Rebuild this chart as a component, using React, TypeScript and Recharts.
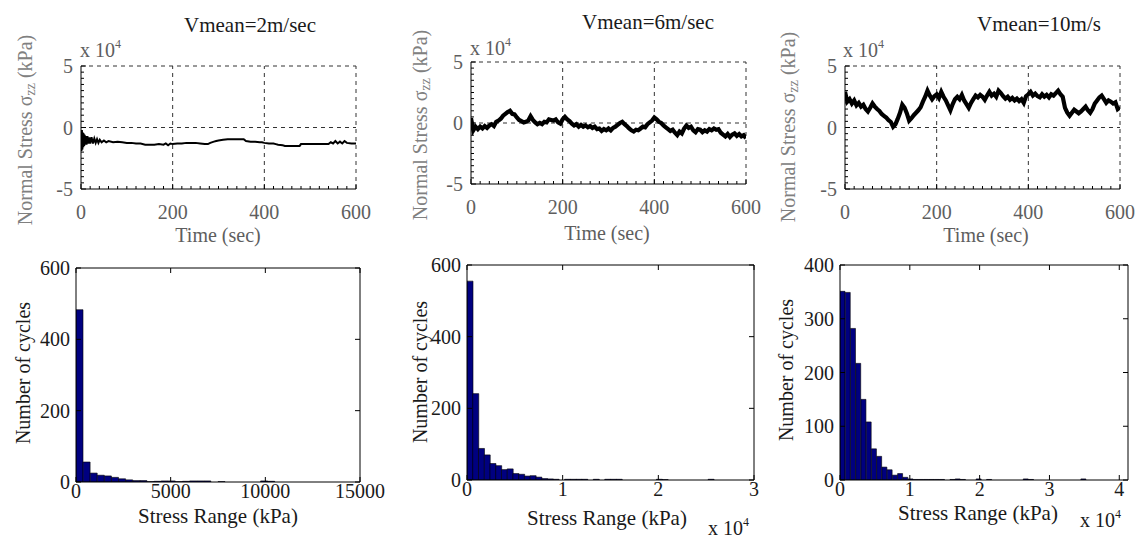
import React from 'react';
import { LineChart, Line, BarChart, Bar, XAxis, YAxis, ReferenceLine } from 'recharts';

const SERIF = '"Liberation Serif", "Times New Roman", Times, serif';
const W = 1140;
const H = 538;
const GREY = '#5e5e5e';
const DARK = '#1a1a1a';
const AXIS_W = 36;
const AXIS_H = 36;

// ---------------- data ----------------
// Vmean = 2 m/s : normal stress (x10^4 kPa) vs time (s)
const TIME_V2 = [0,1,2,3,4,5,6,7,8,9,10,12,14,16,18,20,23,26,29,32,35,38,41,45,50,55,60,70,80,90,100,110,120,130,140,150,160,170,180,185,190,195,200,210,220,230,240,250,260,270,277,282,290,295,300,310,320,330,340,350,355,360,370,380,390,395,400,410,420,425,430,440,445,450,460,470,477,480,490,500,510,520,530,540,545,550,555,560,565,570,575,580,590,600];
const STRESS_V2 = [-0.3,-1.9,-0.2,-1.8,-0.4,-1.6,-0.5,-1.5,-0.6,-1.4,-0.7,
  -1.4,-0.7,-1.3,-0.8,-1.3,
  -0.8,-1.3,-0.9,-1.25,-0.95,-1.25,-1.0,-1.2,
  -1.05,-1.2,-1.1,
  -1.2,-1.15,-1.2,-1.25,-1.25,-1.3,-1.3,-1.4,-1.4,-1.4,-1.35,-1.4,
  -1.3,-1.45,-1.3,-1.35,
  -1.3,-1.3,-1.25,-1.25,-1.25,-1.3,-1.35,
  -1.35,-1.25,-1.15,-1.1,-1.05,
  -1.0,-0.95,-0.95,-0.95,-0.95,
  -0.95,-1.1,-1.15,-1.15,-1.2,-1.2,-1.25,
  -1.3,-1.3,-1.35,-1.4,-1.45,-1.5,-1.5,
  -1.5,-1.5,-1.5,-1.35,-1.35,-1.35,
  -1.35,-1.35,-1.35,-1.35,
  -1.2,-1.3,-1.1,-1.3,-1.15,-1.3,-1.1,-1.25,-1.3,-1.3];

// Vmean = 6 m/s and 10 m/s sampled every 5 s
const TIME_5S = [0,5,10,15,20,25,30,35,40,45,50,55,60,65,70,75,80,85,90,95,100,105,110,115,120,125,130,135,140,145,150,155,160,165,170,175,180,185,190,195,200,205,210,215,220,225,230,235,240,245,250,255,260,265,270,275,280,285,290,295,300,305,310,315,320,325,330,335,340,345,350,355,360,365,370,375,380,385,390,395,400,405,410,415,420,425,430,435,440,445,450,455,460,465,470,475,480,485,490,495,500,505,510,515,520,525,530,535,540,545,550,555,560,565,570,575,580,585,590,595,600];
const STRESS_V6 = [
  0.4,-0.6,-0.3,-0.5,-0.3,-0.45,-0.25,-0.4,-0.2,-0.1,
  -0.25,0.1,0.2,0.35,0.6,0.75,0.9,1.0,0.75,0.7,
  0.45,0.25,0.15,0.05,0.1,0.2,0.55,0.25,0.05,-0.1,
  0.0,-0.1,0.1,0.05,0.3,0.25,0.2,0.3,0.05,-0.05,
  0.3,0.5,0.3,0.15,-0.05,-0.2,-0.1,-0.3,-0.15,-0.3,
  -0.2,-0.35,-0.25,-0.4,-0.3,-0.5,-0.45,-0.65,-0.5,-0.6,
  -0.45,-0.6,-0.4,-0.3,-0.15,0.0,0.1,-0.1,-0.25,-0.45,
  -0.6,-0.7,-0.55,-0.6,-0.45,-0.3,-0.35,-0.1,0.05,0.2,
  0.45,0.3,0.1,0.0,-0.2,-0.35,-0.5,-0.65,-0.55,-0.8,
  -1.0,-0.7,-0.85,-0.45,-0.2,-0.4,-0.3,-0.6,-0.75,-0.5,
  -0.55,-0.75,-0.6,-0.7,-0.5,-0.6,-0.45,-0.55,-0.5,-0.8,
  -0.95,-1.1,-0.9,-1.15,-0.95,-0.85,-1.05,-0.9,-1.1,-1.0,
  -1.25];
const STRESS_V10 = [
  2.9,2.1,2.3,1.95,2.2,1.8,2.0,1.7,1.85,1.5,
  1.3,1.6,1.95,1.7,1.5,1.35,1.1,0.95,0.8,0.6,
  0.45,0.05,0.25,0.7,1.2,1.85,1.6,1.15,0.55,0.75,
  1.0,1.2,1.4,1.65,2.1,2.5,3.0,2.6,2.3,2.55,
  2.7,2.4,2.9,2.5,2.2,1.8,1.4,1.9,2.3,2.5,
  2.3,2.65,2.2,1.9,1.6,2.0,2.3,2.6,2.45,2.65,
  2.5,2.25,2.6,2.9,2.6,2.75,2.5,3.0,2.8,2.55,
  2.35,2.5,2.25,2.4,2.2,2.35,2.15,2.3,2.0,2.55,
  2.7,2.9,2.6,2.75,2.55,2.45,2.7,2.5,2.65,2.45,
  2.7,2.6,2.8,3.0,2.7,2.5,1.6,1.2,0.95,1.2,
  1.45,1.3,1.15,1.3,1.5,1.7,1.4,1.2,1.5,1.95,
  2.2,2.45,2.6,2.3,2.0,2.2,2.1,1.95,2.05,1.5,
  1.65];

// Histograms of stress range (kPa): bin width and cycle counts
const BIN_WIDTH_V2 = 375;
const COUNTS_V2 = [483,56,25,19,17,13,9,6,4,4, 1,2,3,3,1,2,3,3,3,0, 1,0,0,0,0,0,3,2,0,0, 0,0,0,0,0,0,0,0,0,0];
const BIN_WIDTH_V6 = 600;
const COUNTS_V6 = [555,241,88,70,46,40,29,31,18,16, 11,12,8,4,3,2,0,2,2,2, 2,0,2,0,2,2,2,0,0,0, 0,0,0,2,1,0,0,0,0,0, 0,0,2,0,0,0,0,0,0,0];
const BIN_WIDTH_V10 = 750;
const COUNTS_V10 = [351,349,282,217,150,108,58,44,24,19, 9,12,5,2,1,1,1,1,1,1, 0,1,2,1,0,0,2,0,1,0, 0,0,0,0,0,2,1,0,0,0, 0,0,0,0,0,0,2,0,0,0, 0,0,0,0,0];

const TITLES = ['Vmean=2m/sec', 'Vmean=6m/sec', 'Vmean=10m/s'];
const TIME_TICKS = [0, 200, 400, 600];
const STRESS_TICKS = [-5, 0, 5];
const RANGE_TICKS_V2 = [0, 5000, 10000, 15000];
const RANGE_TICKS_V6 = [0, 10000, 20000, 30000];
const RANGE_TICKS_V10 = [0, 10000, 20000, 30000, 40000];
const COUNT_TICKS_600 = [0, 200, 400, 600];
const COUNT_TICKS_400 = [0, 100, 200, 300, 400];

// ---------------- helpers ----------------
const steps = (a: number, b: number, s: number) => {
  const out: number[] = [];
  for (let v = a; v <= b + 1e-9; v += s) out.push(Math.round(v * 1000) / 1000);
  return out;
};
const TIME_MINOR = steps(0, 600, 20);
const STRESS_MINOR = steps(-5, 5, 0.5);

type Rect = { l: number; t: number; r: number; b: number };
type Pt = { x: number; y: number };

const TOP_LAYOUT: { plot: Rect; title: Pt; exp: Pt; ylab: Pt; xlab: Pt }[] = [
  { plot: { l: 81, t: 66, r: 356, b: 189 }, title: { x: 250, y: 32 }, exp: { x: 80, y: 57 }, ylab: { x: 25, y: 130 }, xlab: { x: 218, y: 242 } },
  { plot: { l: 471, t: 62, r: 746, b: 184 }, title: { x: 648, y: 29 }, exp: { x: 470, y: 55 }, ylab: { x: 420, y: 125 }, xlab: { x: 607, y: 240 } },
  { plot: { l: 845, t: 66, r: 1120, b: 189 }, title: { x: 1039, y: 31 }, exp: { x: 843, y: 57 }, ylab: { x: 788, y: 127 }, xlab: { x: 986, y: 242 } },
];
const BOTTOM_LAYOUT: { plot: Rect; xlab: Pt; ylab: Pt; exp: Pt | null }[] = [
  { plot: { l: 76, t: 268, r: 360, b: 482 }, xlab: { x: 218, y: 523 }, ylab: { x: 23, y: 373 }, exp: null },
  { plot: { l: 467, t: 265, r: 754, b: 480 }, xlab: { x: 607, y: 525 }, ylab: { x: 420, y: 372 }, exp: { x: 708, y: 535 } },
  { plot: { l: 840, t: 265, r: 1128, b: 480 }, xlab: { x: 978, y: 520 }, ylab: { x: 786, y: 370 }, exp: { x: 1080, y: 527 } },
];

const marginOf = (p: Rect) => ({ top: p.t, left: p.l - AXIS_W, right: W - p.r, bottom: H - p.b - AXIS_H });

const Exp = ({ x, y, color }: { x: number; y: number; color: string }) => (
  <text x={x} y={y} fontFamily={SERIF} fontSize={20} fill={color}>
    x 10<tspan dy={-9} fontSize={12}>4</tspan>
  </text>
);

const DASH = { stroke: '#333', strokeDasharray: '4 4', strokeWidth: 1 };

function TopPanel({ idx, times, values, strokeWidth }: { idx: number; times: number[]; values: number[]; strokeWidth: number }) {
  const L = TOP_LAYOUT[idx];
  const p = L.plot;
  const data = times.map((t, i) => ({ t, v: values[i] }));
  const xTick = (props: any) => {
    const v = props.payload.value;
    const major = TIME_TICKS.includes(v);
    return (
      <g>
        <line x1={props.x} x2={props.x} y1={props.y} y2={props.y - (major ? 5 : 3)} stroke="#000" />
        {major && (
          <text x={props.x} y={props.y + 30} textAnchor="middle" fontFamily={SERIF} fontSize={20} fill={GREY}>{v}</text>
        )}
      </g>
    );
  };
  const yTick = (props: any) => {
    const v = props.payload.value;
    const major = STRESS_TICKS.includes(v);
    return (
      <g>
        <line x1={props.x} x2={props.x + (major ? 5 : 3)} y1={props.y} y2={props.y} stroke="#000" />
        {major && (
          <text x={props.x - 8} y={props.y + 7} textAnchor="end" fontFamily={SERIF} fontSize={20} fill={GREY}>{v}</text>
        )}
      </g>
    );
  };
  const yLabel = () => (
    <g>
      <text x={L.title.x} y={L.title.y} textAnchor="middle" fontFamily={SERIF} fontSize={21} fill={DARK}>{TITLES[idx]}</text>
      <Exp x={L.exp.x} y={L.exp.y} color={GREY} />
      <text x={L.ylab.x} y={L.ylab.y} transform={`rotate(-90 ${L.ylab.x} ${L.ylab.y})`} textAnchor="middle" dominantBaseline="central" fontFamily={SERIF} fontSize={20} fill="#808080">
        Normal Stress σ<tspan dy={5} fontSize={14}>zz</tspan><tspan dy={-5}> (kPa)</tspan>
      </text>
    </g>
  );
  const xLabel = () => (
    <text x={L.xlab.x} y={L.xlab.y} textAnchor="middle" fontFamily={SERIF} fontSize={20} fill={GREY}>Time (sec)</text>
  );
  return (
    <div style={{ position: 'absolute', left: 0, top: 0 }}>
      <LineChart width={W} height={H} data={data} margin={marginOf(p)}>
        <XAxis dataKey="t" type="number" domain={[0, 600]} ticks={TIME_MINOR} interval={0} height={AXIS_H} tickSize={0} tickMargin={0} tickLine={false} axisLine={{ stroke: '#000' }} tick={xTick} allowDataOverflow label={{ content: xLabel }} />
        <YAxis type="number" domain={[-5, 5]} ticks={STRESS_MINOR} interval={0} width={AXIS_W} tickSize={0} tickMargin={0} tickLine={false} axisLine={{ stroke: '#000' }} tick={yTick} allowDataOverflow label={{ content: yLabel }} />
        <ReferenceLine x={200} {...DASH} />
        <ReferenceLine x={400} {...DASH} />
        <ReferenceLine x={600} {...DASH} />
        <ReferenceLine y={0} {...DASH} />
        <ReferenceLine y={5} {...DASH} />
        <Line dataKey="v" type="linear" stroke="#000" strokeWidth={strokeWidth} strokeLinejoin="miter" dot={false} isAnimationActive={false} />
      </LineChart>
    </div>
  );
}

function HistPanel({ idx, binWidth, counts, xMax, xTicks, yMax, yTicks, scaled }: { idx: number; binWidth: number; counts: number[]; xMax: number; xTicks: number[]; yMax: number; yTicks: number[]; scaled: boolean }) {
  const L = BOTTOM_LAYOUT[idx];
  const p = L.plot;
  const data = counts.map((n, i) => ({ x: (i + 0.5) * binWidth, n }));
  const plotH = p.b - p.t;
  const plotW = p.r - p.l;
  const xTick = (props: any) => {
    const v = props.payload.value;
    return (
      <g>
        <line x1={props.x} x2={props.x} y1={props.y} y2={props.y - 5} stroke="#000" />
        <line x1={props.x} x2={props.x} y1={props.y - plotH} y2={props.y - plotH + 5} stroke="#000" />
        <text x={props.x} y={props.y + 16} textAnchor="middle" fontFamily={SERIF} fontSize={20} fill={DARK}>{scaled ? v / 10000 : v}</text>
      </g>
    );
  };
  const yTick = (props: any) => {
    const v = props.payload.value;
    return (
      <g>
        <line x1={props.x} x2={props.x + 5} y1={props.y} y2={props.y} stroke="#000" />
        <line x1={props.x + plotW} x2={props.x + plotW - 5} y1={props.y} y2={props.y} stroke="#000" />
        <text x={props.x - 6} y={props.y + 7} textAnchor="end" fontFamily={SERIF} fontSize={20} fill={DARK}>{v}</text>
      </g>
    );
  };
  const xLabel = () => (
    <g>
      <text x={L.xlab.x} y={L.xlab.y} textAnchor="middle" fontFamily={SERIF} fontSize={21} fill={DARK}>Stress Range (kPa)</text>
      {L.exp && <Exp x={L.exp.x} y={L.exp.y} color={DARK} />}
    </g>
  );
  const yLabel = () => (
    <text x={L.ylab.x} y={L.ylab.y} transform={`rotate(-90 ${L.ylab.x} ${L.ylab.y})`} textAnchor="middle" dominantBaseline="central" fontFamily={SERIF} fontSize={20} fill={DARK}>Number of cycles</text>
  );
  return (
    <div style={{ position: 'absolute', left: 0, top: 0 }}>
      <BarChart width={W} height={H} data={data} margin={marginOf(p)} barCategoryGap={0} barGap={0}>
        <XAxis dataKey="x" type="number" domain={[0, xMax]} ticks={xTicks} interval={0} height={AXIS_H} tickSize={0} tickMargin={0} tickLine={false} axisLine={{ stroke: '#000' }} tick={xTick} allowDataOverflow label={{ content: xLabel }} />
        <YAxis type="number" domain={[0, yMax]} ticks={yTicks} interval={0} width={AXIS_W} tickSize={0} tickMargin={0} tickLine={false} axisLine={{ stroke: '#000' }} tick={yTick} allowDataOverflow label={{ content: yLabel }} />
        <Bar dataKey="n" fill="#000080" stroke="#000" strokeWidth={0.6} isAnimationActive={false} />
        <ReferenceLine y={yMax} stroke="#000" />
        <ReferenceLine x={xMax} stroke="#000" />
      </BarChart>
    </div>
  );
}

export default function App() {
  return (
    <div style={{ position: 'absolute', left: 0, top: 0, width: W, height: H, background: '#fff', overflow: 'hidden' }}>
      <TopPanel idx={0} times={TIME_V2} values={STRESS_V2} strokeWidth={2} />
      <TopPanel idx={1} times={TIME_5S} values={STRESS_V6} strokeWidth={4.2} />
      <TopPanel idx={2} times={TIME_5S} values={STRESS_V10} strokeWidth={4.2} />
      <HistPanel idx={0} binWidth={BIN_WIDTH_V2} counts={COUNTS_V2} xMax={15000} xTicks={RANGE_TICKS_V2} yMax={600} yTicks={COUNT_TICKS_600} scaled={false} />
      <HistPanel idx={1} binWidth={BIN_WIDTH_V6} counts={COUNTS_V6} xMax={30000} xTicks={RANGE_TICKS_V6} yMax={600} yTicks={COUNT_TICKS_600} scaled={true} />
      <HistPanel idx={2} binWidth={BIN_WIDTH_V10} counts={COUNTS_V10} xMax={41250} xTicks={RANGE_TICKS_V10} yMax={400} yTicks={COUNT_TICKS_400} scaled={true} />
    </div>
  );
}
